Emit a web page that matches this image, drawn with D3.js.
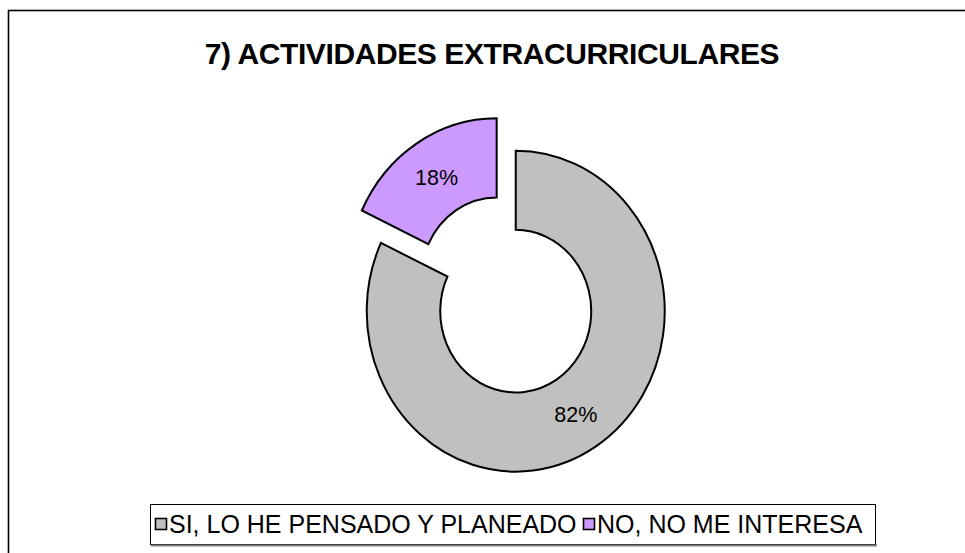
<!DOCTYPE html>
<html><head><meta charset="utf-8">
<script src="https://cdn.jsdelivr.net/npm/d3@7"></script>
<style>body{margin:0;background:#fff}svg{display:block}</style>
</head><body>
<script>
const title = "7) ACTIVIDADES EXTRACURRICULARES";
const categories = ["SI, LO HE PENSADO Y PLANEADO", "NO, NO ME INTERESA"];
const values = [82, 18];
const labels = ["82%", "18%"];
const colors = ["#c0c0c0", "#cc99ff"];

const W = 965, H = 553;
const FONT = "Liberation Sans, Arial, sans-serif";
const svg = d3.select("body").append("svg").attr("width", W).attr("height", H);
svg.append("rect").attr("x", 8.5).attr("y", 10.5).attr("width", W + 10).attr("height", H + 10)
  .attr("fill", "#fff").attr("stroke", "#000").attr("stroke-width", 1.6);

svg.append("text").attr("x", 492).attr("y", 63.5).attr("text-anchor", "middle")
  .attr("font-family", FONT).attr("font-weight", "bold")
  .attr("font-size", 30).attr("letter-spacing", -0.4).text(title);

const cx = 506.2, cy = 295, sy = 1.077, rO = 149, rI = 75.5, explode = 17.8;
const pie = d3.pie().sort(null).value(d => d)(values);
const arc = d3.arc().innerRadius(rI).outerRadius(rO);
const g = svg.append("g").attr("transform", `translate(${cx},${cy}) scale(1,${sy})`);
pie.forEach((p, i) => {
  const mid = (p.startAngle + p.endAngle) / 2;
  const dx = Math.sin(mid) * explode, dy = -Math.cos(mid) * explode;
  const sg = g.append("g").attr("transform", `translate(${dx},${dy})`);
  sg.append("path").attr("d", arc(p)).attr("fill", colors[i]).attr("stroke", "#000")
    .attr("stroke-width", 2).attr("vector-effect", "non-scaling-stroke");
  const c = arc.centroid(p);
  svg.append("text").attr("x", cx + dx + c[0]).attr("y", cy + (dy + c[1]) * sy + 8.5)
    .attr("text-anchor", "middle").attr("font-family", FONT)
    .attr("font-size", 21.5).attr("fill", "#000").text(labels[i]);
});

// legend
const lg = svg.append("g");
lg.append("rect").attr("x", 150.5).attr("y", 504.5).attr("width", 725).attr("height", 40)
  .attr("fill", "#fff").attr("stroke", "#000").attr("stroke-width", 1);
lg.append("line").attr("x1", 151).attr("x2", 877).attr("y1", 545.5).attr("y2", 545.5)
  .attr("stroke", "#808080").attr("stroke-width", 2);
const itemX = [155, 583];
categories.forEach((c, i) => {
  lg.append("rect").attr("x", itemX[i] + 0.5).attr("y", 518.5).attr("width", 11).attr("height", 11)
    .attr("fill", colors[i]).attr("stroke", "#000").attr("stroke-width", 1.6);
  lg.append("text").attr("x", itemX[i] + 14).attr("y", 533).attr("font-family", FONT)
    .attr("font-size", 25).text(c);
});
</script>
</body></html>
